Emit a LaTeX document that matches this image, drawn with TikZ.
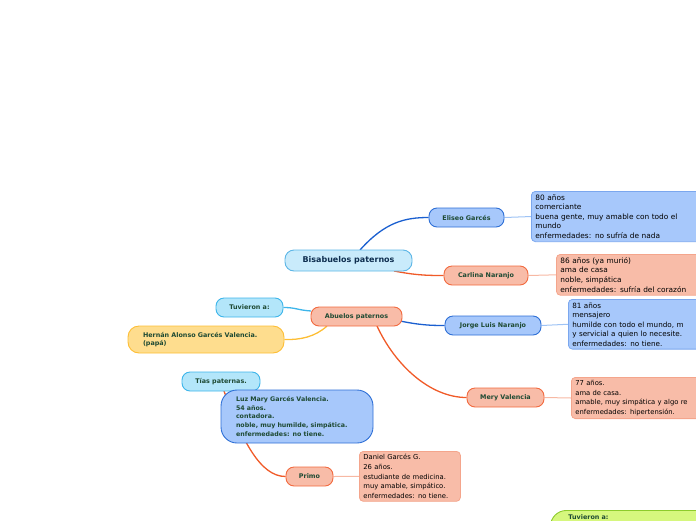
\documentclass[tikz,border=0pt]{standalone}
\usepackage{fontspec}
\setmainfont{DejaVu Sans}
\pgfdeclarelayer{bg}
\pgfsetlayers{bg,main}
\definecolor{bluefill}{HTML}{A7C8FB}
\definecolor{bluedraw}{HTML}{2E6FD6}
\definecolor{bluedet}{HTML}{7BA7EE}
\definecolor{salfill}{HTML}{F8BCA8}
\definecolor{saldraw}{HTML}{F26A3F}
\definecolor{saldet}{HTML}{F4A58C}
\definecolor{cyanfill}{HTML}{B3E6FA}
\definecolor{cyandraw}{HTML}{3DB5EA}
\definecolor{bisfill}{HTML}{C9EBFB}
\definecolor{bisdraw}{HTML}{5DB6E6}
\definecolor{yelfill}{HTML}{FEDD8E}
\definecolor{yeldraw}{HTML}{FDBE35}
\definecolor{grnfill}{HTML}{D6F77E}
\definecolor{grndraw}{HTML}{8DCB2C}
\definecolor{txtgreen}{HTML}{1E4A33}
\definecolor{bistext}{HTML}{0E2E4F}
\definecolor{bluecon}{HTML}{1A5FD0}
\definecolor{orcon}{HTML}{F05A28}
\definecolor{bluelink}{HTML}{9EC3F5}
\definecolor{sallink}{HTML}{F7B8A3}
\tikzset{
  lbl/.style={draw, line width=0.9pt, rounded corners=8pt, font=\fontsize{6.4}{8}\selectfont\bfseries,
    text=txtgreen, minimum height=19pt, inner xsep=4pt, inner ysep=2pt, anchor=center},
  bluelbl/.style={lbl, fill=bluefill, draw=bluedraw},
  sallbl/.style={lbl, fill=salfill, draw=saldraw},
  cyanlbl/.style={lbl, fill=cyanfill, draw=cyandraw},
  detail/.style={draw, line width=0.8pt, rounded corners=4pt, align=left, anchor=north west,
    inner xsep=4pt, inner ysep=3pt, text=black, font=\fontsize{7.4}{9.6}\selectfont},
  bluedetail/.style={detail, fill=bluefill, draw=bluedet},
  saldetail/.style={detail, fill=salfill, draw=saldet},
  con/.style={line width=1.3pt},
  link/.style={line width=1pt},
}
\begin{document}
\begin{tikzpicture}[x=1pt,y=-1pt]
\useasboundingbox (0,0) rectangle (696,520);

\coordinate (bisTop) at (360,250);
\coordinate (bisBot) at (394,271);
\coordinate (abuR) at (400,321);
\coordinate (abuB) at (377,326);
\coordinate (abuL) at (311,311);
\coordinate (abuBL) at (327,326);
\coordinate (tiasB) at (224,391);

\node[lbl, fill=bisfill, draw=bisdraw, minimum width=127pt, minimum height=21pt, rounded corners=9pt,
  text=bistext, font=\fontsize{8}{10}\selectfont\bfseries] (bis) at (348.5,260.5) {Bisabuelos paternos};
\node[bluelbl, minimum width=75pt] (eli) at (466.5,217.5) {Eliseo Garcés};
\node[sallbl, minimum width=84pt] (carl) at (486,275.5) {Carlina Naranjo};
\node[sallbl, minimum width=91pt] (abu) at (356.5,316.5) {Abuelos paternos};
\node[cyanlbl, minimum width=67pt] (tuv) at (249.5,307.5) {Tuvieron a:};
\node[lbl, fill=yelfill, draw=yeldraw, minimum height=27pt, inner xsep=15pt, text width=126pt,
  align=left, rounded corners=11pt, font=\fontsize{6.4}{8.4}\selectfont\bfseries] (hern) at (206,339.5)
  {Hernán Alonso Garcés Valencia.\\(papá)};
\node[bluelbl, minimum width=96pt] (jor) at (493,325.5) {Jorge Luis Naranjo};
\node[sallbl, minimum width=77pt] (mery) at (505.5,397.5) {Mery Valencia};
\node[cyanlbl, minimum width=78pt] (tias) at (221,381.5) {Tías paternas.};
\node[sallbl, minimum width=47pt] (primo) at (309.5,476.5) {Primo};
\node[bluelbl, minimum width=152pt, minimum height=53pt, inner xsep=15pt, text width=122pt, align=left,
  rounded corners=16pt, font=\fontsize{6.3}{8.6}\selectfont\bfseries] (luz) at (297,416.5)
  {Luz Mary Garcés Valencia.\\54 años.\\contadora.\\noble, muy humilde, simpática.\\enfermedades: no tiene.};

\node[bluedetail, text width=175pt] (elid) at (531,191)
  {80 años\\comerciante\\buena gente, muy amable con todo el\\mundo\\enfermedades: no sufría de nada};
\node[saldetail, text width=150pt] (carld) at (556,254)
  {86 años (ya murió)\\ama de casa\\noble, simpática\\enfermedades: sufría del corazón};
\node[bluedetail, text width=150pt, font=\fontsize{7.2}{9.5}\selectfont] (jord) at (568,299)
  {81 años\\mensajero\\humilde con todo el mundo, m\\y servicial a quien lo necesite.\\enfermedades: no tiene.};
\node[saldetail, text width=150pt, font=\fontsize{6.8}{9.5}\selectfont] (meryd) at (571,377)
  {77 años.\\ama de casa.\\amable, muy simpática y algo re\\enfermedades: hipertensión.};
\node[saldetail, text width=93pt, font=\fontsize{6.8}{9.6}\selectfont] (primod) at (359,451)
  {Daniel Garcés G.\\26 años.\\estudiante de medicina.\\muy amable, simpático.\\enfermedades: no tiene.};
\node[draw=grndraw, fill=grnfill, line width=0.9pt, rounded corners=16pt, anchor=north west,
  text width=150pt, inner xsep=18pt, inner ysep=4.5pt, minimum height=40pt, align=left, text=txtgreen,
  font=\fontsize{6.4}{8.6}\selectfont\bfseries, text depth=30pt] (grn) at (550,510) {Tuvieron a:};

\begin{pgfonlayer}{bg}
\draw[con, bluecon] (bisTop) .. controls (385,222) and (405,217.5) .. (eli.west);
\draw[con, orcon] (bisBot) .. controls (415,275) and (425,275.5) .. (carl.west);
\draw[con, bluecon] (abuR) .. controls (420,325) and (430,325.5) .. (jor.west);
\draw[con, orcon] (abuB) .. controls (395,365) and (430,397.5) .. (mery.west);
\draw[con, cyandraw] (abuL) .. controls (297,310) and (296,307.5) .. (tuv.east);
\draw[con, yeldraw] (abuBL) .. controls (315,337) and (300,340) .. (hern.east);
\draw[con, orcon] (tiasB) .. controls (242,440) and (260,476.5) .. (primo.west);
\draw[link, bluelink] (eli.east) -- (elid.west);
\draw[link, sallink] (carl.east) -- (carld.west);
\draw[link, bluelink] (jor.east) -- (jord.west);
\draw[link, sallink] (mery.east) -- (meryd.west);
\draw[link, sallink] (primo.east) -- (primod.west);
\end{pgfonlayer}
\end{tikzpicture}
\end{document}
